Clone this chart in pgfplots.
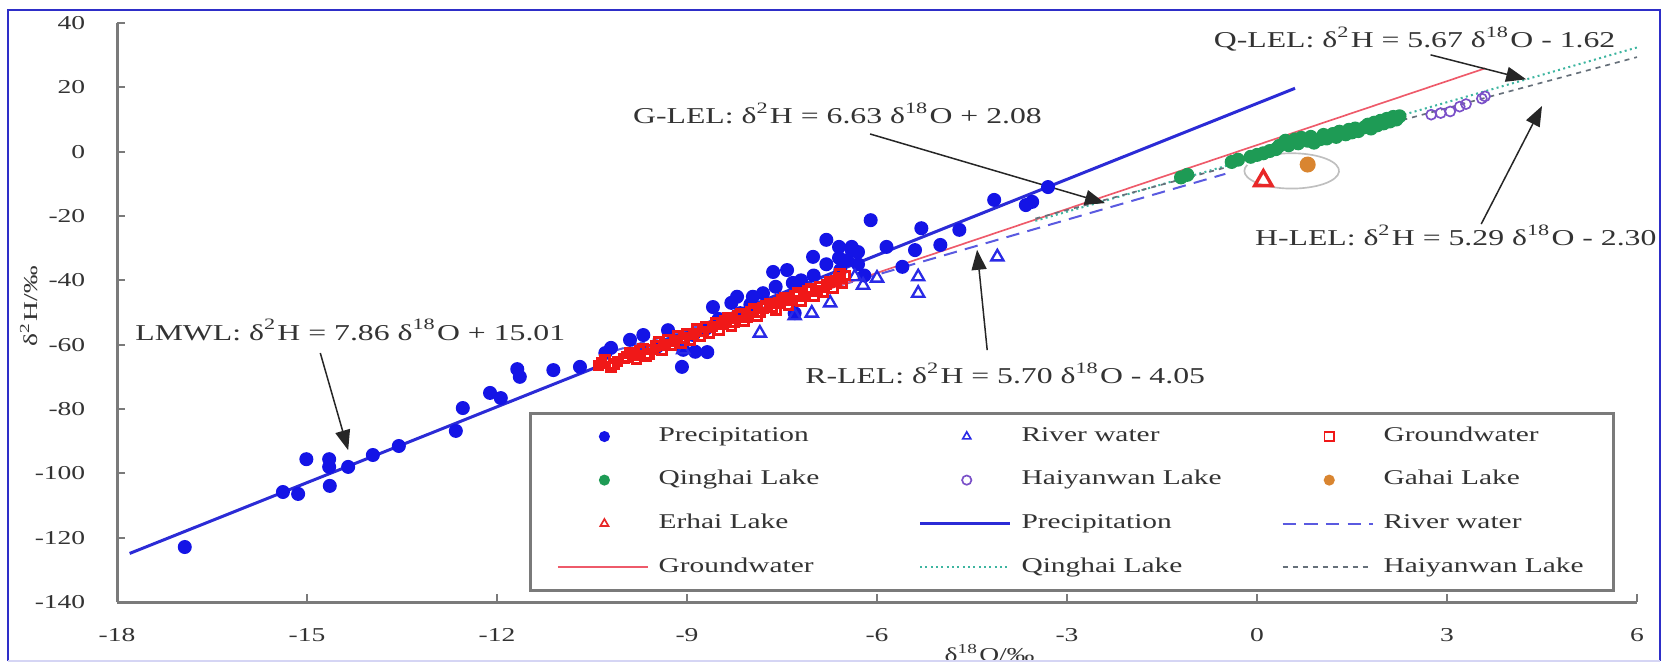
\documentclass[border=0pt]{standalone}
\usepackage{pgfplots}
\pgfplotsset{compat=1.18}
\usepackage{fontspec}
\setmainfont{Liberation Serif}
\usetikzlibrary{arrows.meta}
\usepackage{graphicx}

\definecolor{precip}{HTML}{1414E6}
\definecolor{precipline}{HTML}{2B2BD6}
\definecolor{river}{HTML}{2A2AE6}
\definecolor{riverline}{HTML}{5A5AE0}
\definecolor{gw}{HTML}{F01818}
\definecolor{gwline}{HTML}{EE5A6A}
\definecolor{qh}{HTML}{1E9B55}
\definecolor{qhline}{HTML}{3DB5A0}
\definecolor{hy}{HTML}{7A50C8}
\definecolor{hyline}{HTML}{66707A}
\definecolor{gh}{HTML}{D98530}
\definecolor{eh}{HTML}{E82828}
\definecolor{axisgray}{HTML}{7A7A7A}
\definecolor{txt}{HTML}{333333}
\definecolor{frameblue}{HTML}{2E2EC8}

\newcommand{\sx}[1]{\scalebox{1.4}[1]{#1}}
\newcommand{\ann}[1]{{\fontsize{6.8}{8}\selectfont\sx{#1}}}
\newcommand{\lgd}[1]{{\fontsize{6.3}{7.5}\selectfont\sx{#1}}}
\newcommand{\tl}[1]{{\fontsize{5.9}{7}\selectfont\sx{#1}}}
\newcommand{\dH}{δ\textsuperscript{2}H}
\newcommand{\dO}{δ\textsuperscript{18}O}

\pgfplotsset{
 markleg/.style={legend image code/.code={\path[draw=none,fill=none] (0pt,-2pt) rectangle (27pt,2pt); \draw[##1, only marks, mark size=1.4pt, line width=0.5pt] plot coordinates {(14pt,0pt)};}},
 lineleg/.style={legend image code/.code={\path[draw=none,fill=none] (0pt,-2pt) rectangle (27pt,2pt); \draw[##1] (0pt,0pt) -- (27pt,0pt);}},
}

\begin{document}
\begin{tikzpicture}
\path[use as bounding box] (0pt,0pt) rectangle (499.5pt,198.9pt);
\begin{axis}[
  at={(35.1pt,18.3pt)}, anchor=south west,
  scale only axis, width=456pt, height=173.7pt,
  xmin=-18, xmax=6, ymin=-140, ymax=40,
  axis x line*=bottom, axis y line*=left,
  axis line style={axisgray, line width=0.9pt},
  xtick={-18,-15,-12,-9,-6,-3,0,3,6},
  xticklabels={\tl{-18},\tl{-15},\tl{-12},\tl{-9},\tl{-6},\tl{-3},\tl{0},\tl{3},\tl{6}},
  ytick={-140,-120,-100,-80,-60,-40,-20,0,20,40},
  yticklabels={\tl{-140},\tl{-120},\tl{-100},\tl{-80},\tl{-60},\tl{-40},\tl{-20},\tl{0},\tl{20},\tl{40}},
  tick align=inside, major tick length=2.5pt,
  tick style={axisgray, line width=0.6pt},
  xticklabel style={text=txt, yshift=-4.5pt},
  yticklabel style={text=txt, xshift=-6pt},
  xlabel={\tl{\dO/‰}},
  ylabel={\tl{\dH/‰}},
  every axis x label/.style={at={(rel axis cs:0.574,-0.088)}, anchor=center, text=txt},
  every axis y label/.style={at={(rel axis cs:-0.058,0.511)}, anchor=center, rotate=90, text=txt},
  clip=false,
  legend columns=3,
  legend cell align=left,
  legend style={at={(rel axis cs:0.271,0.328)}, anchor=north west,
    draw=axisgray, line width=0.8pt, fill=white,
    inner xsep=8pt, inner ysep=3pt, row sep=5.2pt,
    /tikz/every odd column/.append style={column sep=2pt},
    nodes={inner sep=1pt, text=txt}},
]
% Precipitation
\addplot[only marks, mark=*, mark size=1.9pt, color=precip, markleg] coordinates {
(-16.93,-122.9) (-15.38,-105.8) (-15.14,-106.4) (-15.01,-95.6) (-14.65,-95.6)
(-14.65,-98.0) (-14.64,-103.9) (-14.35,-98.0) (-13.96,-94.3) (-13.55,-91.5)
(-12.65,-86.8) (-12.54,-79.7) (-12.11,-75.0) (-11.94,-76.6) (-11.68,-67.6)
(-11.64,-70.0) (-11.11,-67.9) (-10.69,-66.9) (-10.29,-62.6) (-9.69,-57.0)
(-9.47,-60.6) (-9.06,-61.6) (-8.87,-62.2) (-9.08,-66.9) (-8.59,-48.3)
(-8.21,-45.1) (-7.96,-45.1) (-8.16,-50.2) (-7.64,-37.4) (-7.42,-36.8)
(-7.30,-50.2) (-7.33,-40.8) (-7.01,-32.7) (-6.80,-27.4) (-6.60,-29.6)
(-6.40,-29.6) (-6.47,-33.7) (-6.30,-31.2) (-6.58,-36.8) (-6.10,-21.3)
(-5.85,-29.6) (-5.60,-35.8) (-5.40,-30.6) (-5.30,-23.8) (-5.00,-29.0)
(-4.70,-24.3) (-4.15,-15.0) (-3.65,-16.6) (-3.55,-15.6) (-3.30,-11.0)
(-8.9,-57.0) (-8.7,-55.0) (-8.5,-52.0) (-8.3,-47.0) (-8.0,-47.5)
(-7.8,-44.0) (-7.6,-42.0) (-7.2,-40.0) (-7.0,-38.5) (-6.8,-35.0)
(-6.6,-33.0) (-6.4,-30.5) (-6.3,-35.0) (-6.2,-38.5) (-9.9,-58.5)
(-10.2,-61.0) (-9.3,-55.5) (-8.68,-62.3)
};
\addlegendentry{\makebox[77pt][l]{\lgd{Precipitation}}}
% River water
\addplot[only marks, mark=triangle, mark size=2.1pt, color=river, line width=0.7pt, markleg] coordinates {
(-9.06,-61.6) (-7.85,-56.4) (-7.03,-50.2) (-6.74,-47.0) (-6.22,-41.5)
(-6.0,-39.3) (-6.35,-38.9) (-5.35,-38.9) (-5.35,-44.0) (-4.1,-32.7)
(-7.3,-51.0)
};
\addlegendentry{\makebox[77pt][l]{\lgd{River water}}}
% Groundwater
\addplot[only marks, mark=square, mark size=1.3pt, color=gw, line width=0.9pt, markleg] coordinates {
(-10.4,-66.5) (-10.3,-64.8) (-10.2,-67.0) (-10.1,-65.2) (-9.95,-63.8)
(-9.9,-62.5) (-9.8,-64.5) (-9.7,-61.2) (-9.6,-62.8) (-9.5,-60.5)
(-9.45,-59.2) (-9.4,-61.8) (-9.3,-58.6) (-9.25,-60.2) (-9.15,-57.3)
(-9.1,-59.4) (-9.0,-56.5) (-8.95,-58.6) (-8.85,-55.2) (-8.8,-57.4)
(-8.7,-54.6) (-8.65,-56.3) (-8.55,-53.2) (-8.5,-55.4) (-8.4,-52.5)
(-8.3,-54.1) (-8.2,-51.0) (-8.1,-52.6) (-8.0,-49.8) (-7.9,-51.2)
(-7.8,-48.5) (-7.7,-47.2) (-7.6,-49.3) (-7.5,-46.0) (-7.4,-47.6)
(-7.3,-44.8) (-7.2,-46.5) (-7.1,-43.2) (-7.0,-45.0) (-6.9,-42.1)
(-6.85,-43.8) (-6.75,-40.6) (-6.7,-42.3) (-6.6,-39.2) (-6.55,-41.0)
(-6.5,-38.5)
(-10.35,-65.6) (-10.15,-66.1) (-10.0,-64.3) (-9.85,-63.4) (-9.75,-62.0)
(-9.65,-63.5) (-9.55,-61.5) (-9.35,-60.0) (-9.2,-58.8) (-9.05,-57.9)
(-8.9,-56.6) (-8.75,-55.9) (-8.6,-54.3) (-8.45,-53.6) (-8.35,-51.8)
(-8.25,-52.9) (-8.15,-50.4) (-8.05,-51.5) (-7.95,-49.0) (-7.85,-50.0)
(-7.75,-47.9) (-7.65,-48.3) (-7.55,-47.0) (-7.45,-45.4) (-7.35,-46.3)
(-7.25,-44.0) (-7.15,-45.0) (-7.05,-42.6) (-6.95,-43.4) (-6.8,-41.3)
(-6.65,-40.2) (-6.58,-38.0)
};
\addlegendentry{\lgd{Groundwater}}
% Qinghai Lake
\addplot[only marks, mark=*, mark size=1.9pt, color=qh, markleg] coordinates {
(-1.2,-8.0) (-1.1,-7.2) (-0.4,-3.2) (-0.3,-2.5) (-0.1,-1.6) (0.0,-1.0)
(0.1,-0.5) (0.2,0.2) (0.3,0.8) (0.35,1.8) (0.45,3.4) (0.5,2.0) (0.6,3.8)
(0.65,2.6) (0.7,4.3) (0.8,3.4) (0.85,4.6) (0.9,2.8) (1.0,3.9) (1.05,5.2)
(1.1,4.1) (1.2,5.5) (1.25,4.6) (1.3,6.2) (1.4,5.4) (1.45,6.8) (1.5,6.0)
(1.55,7.2) (1.6,6.4) (1.7,7.6) (1.75,8.4) (1.8,7.2) (1.85,9.0) (1.9,8.2)
(1.95,9.6) (2.0,8.8) (2.05,10.2) (2.1,9.4) (2.15,10.8) (2.2,10.0) (2.25,11.0)
};
\addlegendentry{\makebox[77pt][l]{\lgd{Qinghai Lake}}}
% Haiyanwan Lake
\addplot[only marks, mark=o, mark size=1.5pt, color=hy, line width=0.5pt, markleg] coordinates {
(2.75,11.5) (2.9,12.0) (3.05,12.5) (3.2,14.0) (3.3,14.8) (3.55,16.5) (3.6,17.2)
};
\addlegendentry{\makebox[77pt][l]{\lgd{Haiyanwan Lake}}}
% Gahai Lake
\addplot[only marks, mark=*, mark size=2.2pt, color=gh, markleg] coordinates {(0.8,-4.0)};
\addlegendentry{\lgd{Gahai Lake}}
% Erhai Lake
\addplot[only marks, mark=triangle, mark size=3pt, color=eh, line width=1pt, markleg] coordinates {(0.1,-9.0)};
\addlegendentry{\makebox[77pt][l]{\lgd{Erhai Lake}}}
% Lines
\addplot[precipline, line width=0.9pt, lineleg] coordinates {(-17.8,-124.9) (0.6,19.7)};
\addlegendentry{\makebox[77pt][l]{\lgd{Precipitation}}}
\addplot[riverline, line width=0.6pt, dash pattern=on 4pt off 2.5pt, lineleg] coordinates {(-10.2,-62.2) (-0.5,-6.9)};
\addlegendentry{\lgd{River water}}
\addplot[gwline, line width=0.5pt, lineleg] coordinates {(-10.2,-65.5) (3.6,25.9)};
\addlegendentry{\makebox[77pt][l]{\lgd{Groundwater}}}
\addplot[qhline, line width=0.6pt, densely dotted, lineleg] coordinates {(-3.5,-21.5) (6,32.4)};
\addlegendentry{\makebox[77pt][l]{\lgd{Qinghai Lake}}}
\addplot[hyline, line width=0.5pt, dash pattern=on 1.5pt off 1.5pt, lineleg] coordinates {(-3.5,-20.8) (6,29.4)};
\addlegendentry{\lgd{Haiyanwan Lake}}

% ellipse around Gahai/Erhai
\draw[black!25, line width=0.5pt] (axis cs:0.55,-6) ++(-4.9pt,5pt) arc[start angle=110, end angle=-200, x radius=14.2pt, y radius=5.3pt];

% annotations
\tikzset{annarrow/.style={-{Triangle[length=6pt,width=4.5pt]}, line width=0.45pt, black!85}}
\node[anchor=west, text=txt, inner sep=0pt] at (axis cs:-17.72,-55.4) {\ann{LMWL: \dH{} = 7.86 \dO{} + 15.01}};
\draw[annarrow] (axis cs:-14.79,-62.6) -- (axis cs:-14.35,-92.8);
\node[anchor=west, text=txt, inner sep=0pt] at (axis cs:-9.86,12.0) {\ann{G-LEL: \dH{} = 6.63 \dO{} + 2.08}};
\draw[annarrow] (axis cs:-6.11,5.5) -- (axis cs:-2.4,-16);
\node[anchor=west, text=txt, inner sep=0pt] at (axis cs:-0.69,35.0) {\ann{Q-LEL: \dH{} = 5.67 \dO{} - 1.62}};
\draw[annarrow] (axis cs:2.74,30.1) -- (axis cs:4.25,22.5);
\node[anchor=west, text=txt, inner sep=0pt] at (axis cs:-0.04,-26) {\ann{H-LEL: \dH{} = 5.29 \dO{} - 2.30}};
\draw[annarrow] (axis cs:3.54,-22.5) -- (axis cs:4.5,14.2);
\node[anchor=west, text=txt, inner sep=0pt] at (axis cs:-7.14,-68.8) {\ann{R-LEL: \dH{} = 5.70 \dO{} - 4.05}};
\draw[annarrow] (axis cs:-4.26,-61.7) -- (axis cs:-4.42,-30.5);
\end{axis}
\draw[frameblue, line width=0.8pt] (2.4pt,0.6pt) -- (2.4pt,195.9pt) -- (498pt,195.9pt) -- (498pt,0.6pt);
\draw[frameblue!20, line width=0.8pt] (2.4pt,0.6pt) -- (498pt,0.6pt);
\end{tikzpicture}
\end{document}
